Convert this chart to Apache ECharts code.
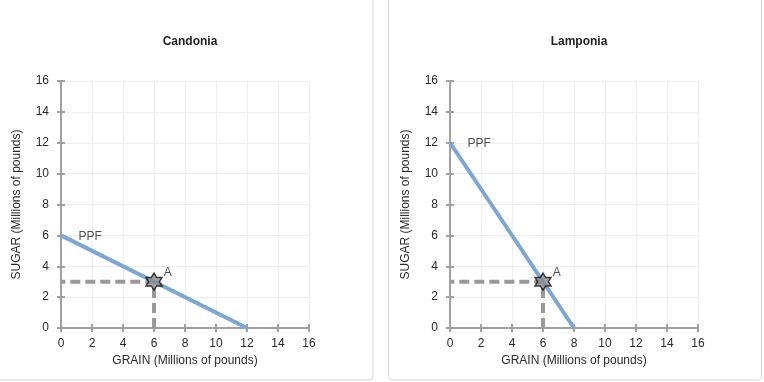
<!DOCTYPE html>
<html>
<head>
<meta charset="utf-8">
<script src="https://cdn.jsdelivr.net/npm/echarts@6/dist/echarts.min.js"></script>
<style>html,body{margin:0;padding:0;background:#fff}#c{width:764px;height:382px}</style>
</head>
<body>
<div id="c"></div>
<script>
const titles = ['Candonia', 'Lamponia'];
const candoniaPPF = [[0, 6], [12, 0]];
const lamponiaPPF = [[0, 12], [8, 0]];
const pointA = [6, 3];
const ppfLabelPos = [[1, 6], [1, 12]];
const axisTicks = [0, 2, 4, 6, 8, 10, 12, 14, 16];

const star = 'path://M0,-10 L2.887,-5 L8.66,-5 L5.774,0 L8.66,5 L2.887,5 L0,10 L-2.887,5 L-8.66,5 L-5.774,0 L-8.66,-5 L-2.887,-5 Z';
const font = 'Liberation Sans, Arial, sans-serif';
const ppfs = [candoniaPPF, lamponiaPPF];
const gridLefts = [61, 450];

const chart = echarts.init(document.getElementById('c'));
const grids = [], xAxes = [], yAxes = [], series = [], titleOpts = [];
for (let i = 0; i < 2; i++) {
  grids.push({left: gridLefts[i], top: 81, width: 248, height: 247});
  titleOpts.push({text: titles[i], left: gridLefts[i] + 124, top: 31, textAlign: 'center',
    textStyle: {fontFamily: font, fontSize: 12, fontWeight: 'bold', color: '#222'}});
  const axisCommon = {
    type: 'value', min: axisTicks[0], max: axisTicks[axisTicks.length - 1], interval: 2, gridIndex: i,
    axisLine: {show: true, lineStyle: {color: '#a0a0a0', width: 2}},
    axisTick: {show: true, length: 4, lineStyle: {color: '#a0a0a0', width: 2}},
    axisLabel: {fontFamily: font, fontSize: 12, color: '#2a2a2a'},
    splitLine: {show: true, lineStyle: {color: '#eeeeee', width: 1}},
    nameLocation: 'middle',
    nameTextStyle: {fontFamily: font, fontSize: 12, color: '#2a2a2a'}
  };
  xAxes.push(Object.assign({}, axisCommon, {position: 'bottom', name: 'GRAIN (Millions of pounds)', nameGap: 27,
    axisLabel: Object.assign({}, axisCommon.axisLabel, {margin: 10})}));
  yAxes.push(Object.assign({}, axisCommon, {position: 'left', name: 'SUGAR (Millions of pounds)', nameGap: 38,
    axisLabel: Object.assign({}, axisCommon.axisLabel, {margin: 12})}));
  // inside ticks overlay
  xAxes.push(Object.assign({}, axisCommon, {position: 'bottom', name: '', axisLabel: {show: false}, splitLine: {show: false},
    axisTick: {show: true, inside: true, length: 4, lineStyle: {color: '#a0a0a0', width: 2}}}));
  yAxes.push(Object.assign({}, axisCommon, {position: 'left', name: '', axisLabel: {show: false}, splitLine: {show: false},
    axisTick: {show: true, inside: true, length: 4, lineStyle: {color: '#a0a0a0', width: 2}}}));
  const xi = i * 2, yi = i * 2;
  series.push({type: 'line', xAxisIndex: xi, yAxisIndex: yi, data: [[pointA[0], 0], pointA, [0, pointA[1]]],
    symbol: 'none', lineStyle: {color: '#999', width: 4, type: [10, 5]}, z: 2, silent: true});
  series.push({type: 'line', xAxisIndex: xi, yAxisIndex: yi, data: ppfs[i], symbol: 'none',
    lineStyle: {color: '#7ba7d0', width: 4}, z: 3, silent: true});
  series.push({type: 'scatter', xAxisIndex: xi, yAxisIndex: yi, data: [ppfLabelPos[i]], symbolSize: 0,
    label: {show: true, formatter: 'PPF', position: 'right', offset: [-3, 1], fontFamily: font, fontSize: 12, color: '#222'}, z: 5});
  series.push({type: 'scatter', xAxisIndex: xi, yAxisIndex: yi, data: [pointA], symbol: star, symbolSize: [16, 17],
    itemStyle: {color: '#8c8c8c', borderColor: '#111', borderWidth: 1.5},
    label: {show: true, formatter: 'A', position: 'right', offset: [-4, -9], fontFamily: font, fontSize: 12, color: '#222'}, z: 6});
}

chart.setOption({
  animation: false,
  title: titleOpts,
  grid: grids,
  xAxis: xAxes,
  yAxis: yAxes,
  series: series,
  graphic: [
    {type: 'rect', shape: {x: -5, y: -5, width: 378, height: 385, r: 4}, style: {fill: 'none', stroke: '#d6d6d6', lineWidth: 1}, z: -10},
    {type: 'rect', shape: {x: 388.5, y: -5, width: 373, height: 385, r: 4}, style: {fill: 'none', stroke: '#d6d6d6', lineWidth: 1}, z: -10}
  ]
});
</script>
</body>
</html>
